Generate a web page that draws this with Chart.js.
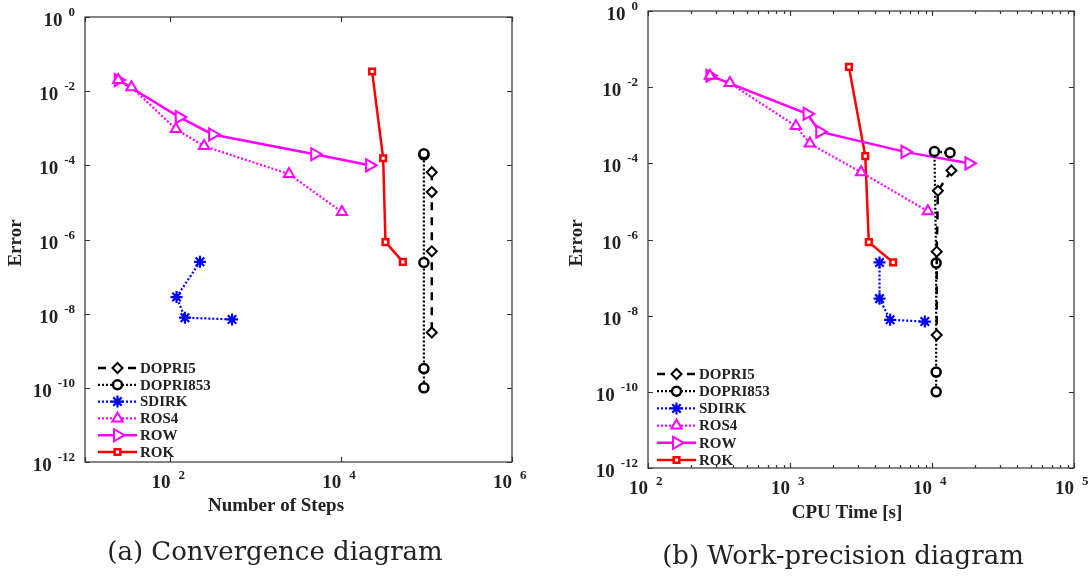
<!DOCTYPE html>
<html>
<head>
<meta charset="utf-8">
<script src="https://cdn.jsdelivr.net/npm/chart.js@4.4.0/dist/chart.umd.min.js"></script>
<style>
  body { margin: 0; background: #fff; width: 1092px; height: 577px; position: relative; overflow: hidden; }
  canvas { position: absolute; top: 0; }
  #convChart { left: 0; }
  #workChart { left: 546px; }
  .cap { position: absolute; font-family: "DejaVu Serif", serif; font-size: 26px; color: #222;
         white-space: nowrap; transform: translateX(-50%); }
</style>
</head>
<body>
<canvas id="convChart" width="546" height="577"></canvas>
<canvas id="workChart" width="546" height="577"></canvas>
<div class="cap" style="left:275px; top:536px">(a) Convergence diagram</div>
<div class="cap" style="left:843px; top:540px">(b) Work-precision diagram</div>
<script>
// methods, in legend order
const methods = ['DOPRI5', 'DOPRI853', 'SDIRK', 'ROS4', 'ROW', 'ROK'];

// error of each run (same runs in both diagrams)
const errDOPRI5   = [6.5e-5, 1.9e-5, 4.8e-7, 3.1e-9];
const errDOPRI853 = [1.9e-4, 2.05e-4, 2.4e-7, 3.3e-10, 1.0e-10];
const errSDIRK    = [2.5e-7, 2.8e-8, 7.8e-9, 7.0e-9];
const errROS4     = [2.0e-2, 1.28e-2, 9.5e-4, 3.3e-4, 5.8e-5, 5.5e-6];
const errROW      = [2.0e-2, 2.0e-3, 6.8e-4, 2.0e-4, 1.0e-4];
const errROK      = [3.4e-2, 1.55e-4, 8.5e-7, 2.5e-7];

// (a) number of steps
const stepsDOPRI5   = [115000, 115000, 115000, 115000];
const stepsDOPRI853 = [93000, 93000, 93000, 93000, 93000];
const stepsSDIRK    = [222, 118, 148, 527];
const stepsROS4     = [24.5, 35, 116, 248, 2450, 10200];
const stepsROW      = [24.5, 127, 312, 4900, 21500];
const stepsROK      = [23000, 31000, 33000, 52700];

// (b) CPU time [s]
const cpuDOPRI5   = [13700, 11000, 10800, 10800];
const cpuDOPRI853 = [13400, 10400, 10700, 10700, 10700];
const cpuSDIRK    = [4270, 4270, 5070, 8900];
const cpuROS4     = [273, 377, 1100, 1380, 3170, 9350];
const cpuROW      = [273, 1320, 1620, 6450, 18200];
const cpuROK      = [2600, 3390, 3590, 5330];

// tick labels (powers of ten)
const yTickExps  = [0, -2, -4, -6, -8, -10, -12];
const xTickExpsA = [2, 4, 6];
const xTickExpsB = [2, 3, 4, 5];

const errors = [errDOPRI5, errDOPRI853, errSDIRK, errROS4, errROW, errROK];

// line / marker styles
const styles = {
  DOPRI5:   { color: '#000000', width: 2.5, dash: [8, 7], point: 'rectRot',  radius: 5,   pbw: 2,   rot: 0 },
  DOPRI853: { color: '#000000', width: 2.2, dash: [2, 2], point: 'circle',   radius: 4.5, pbw: 2.5, rot: 0 },
  SDIRK:    { color: '#0000ff', width: 2.2, dash: [2, 2], point: 'star',     radius: 6,   pbw: 2.2, rot: 0 },
  ROS4:     { color: '#ff00ff', width: 2.2, dash: [2, 2], point: 'triangle', radius: 6,   pbw: 2,   rot: 0 },
  ROW:      { color: '#ff00ff', width: 2.5, dash: [],     point: 'triangle', radius: 7,   pbw: 2,   rot: 90 },
  ROK:      { color: '#ff0000', width: 2.5, dash: [],     point: 'rect',     radius: 4,   pbw: 2.5, rot: 0 }
};

const FONT = '"Liberation Serif", "Times New Roman", serif';
const INK = '#222';

function makeDatasets(xArrays) {
  return methods.map(function(m, i) {
    const s = styles[m];
    return {
      label: m,
      data: xArrays[i].map(function(x, j) { return { x: x, y: errors[i][j] }; }),
      borderColor: s.color,
      borderWidth: s.width,
      borderDash: s.dash,
      tension: 0,
      pointStyle: s.point,
      pointRadius: s.radius,
      pointRotation: s.rot,
      pointBorderWidth: s.pbw,
      pointBorderColor: s.color,
      pointBackgroundColor: '#ffffff',
      fill: false
    };
  });
}

function drawMarker(ctx, s, x, y) {
  ctx.save();
  ctx.setLineDash([]);
  ctx.lineWidth = s.pbw;
  ctx.strokeStyle = s.color;
  ctx.fillStyle = '#ffffff';
  Chart.helpers.drawPoint(ctx, { pointStyle: s.point, rotation: s.rot, radius: s.radius, borderWidth: s.pbw }, x, y);
  ctx.restore();
}

// frame, inward ticks, power-of-ten labels, titles and legend
function framePlugin(cfg) {
  return {
    id: 'frame',
    afterDraw: function(chart) {
      const ctx = chart.ctx, a = chart.chartArea;
      const xs = chart.scales.x, ys = chart.scales.y;
      ctx.save();
      ctx.setLineDash([]);
      ctx.strokeStyle = '#333';
      ctx.lineWidth = 1.2;
      ctx.strokeRect(a.left, a.top, a.right - a.left, a.bottom - a.top);

      ctx.beginPath();
      cfg.xTicks.forEach(function(e) {
        const p = Math.round(xs.getPixelForValue(Math.pow(10, e))) + 0.5;
        ctx.moveTo(p, a.bottom); ctx.lineTo(p, a.bottom - 5);
        ctx.moveTo(p, a.top); ctx.lineTo(p, a.top + 5);
        if (cfg.minor && e < cfg.xTicks[cfg.xTicks.length - 1]) {
          for (let k = 2; k <= 9; k++) {
            const q = Math.round(xs.getPixelForValue(k * Math.pow(10, e))) + 0.5;
            ctx.moveTo(q, a.bottom); ctx.lineTo(q, a.bottom - 3);
            ctx.moveTo(q, a.top); ctx.lineTo(q, a.top + 3);
          }
        }
      });
      yTickExps.forEach(function(e) {
        const p = Math.round(ys.getPixelForValue(Math.pow(10, e))) + 0.5;
        ctx.moveTo(a.left, p); ctx.lineTo(a.left + 5, p);
        ctx.moveTo(a.right, p); ctx.lineTo(a.right - 5, p);
      });
      ctx.stroke();

      ctx.fillStyle = INK;
      ctx.textBaseline = 'alphabetic';
      const big = 'bold 19px ' + FONT, sup = 'bold 13px ' + FONT;

      // y labels: right aligned
      yTickExps.forEach(function(e) {
        const p = ys.getPixelForValue(Math.pow(10, e));
        const txt = String(e);
        ctx.font = sup;
        const wS = ctx.measureText(txt).width;
        const xS = a.left - 10 - wS;
        ctx.textAlign = 'left';
        ctx.fillText(txt, xS, p - 1);
        ctx.font = big;
        ctx.textAlign = 'right';
        ctx.fillText('10', xS - 6, p + 9);
      });

      // x labels
      cfg.xLabels.forEach(function(e) {
        const p = xs.getPixelForValue(Math.pow(10, e));
        ctx.font = big;
        ctx.textAlign = 'right';
        ctx.fillText('10', p, a.bottom + 26);
        ctx.font = sup;
        ctx.textAlign = 'left';
        ctx.fillText(String(e), p + 8, a.bottom + 17);
      });

      // axis titles
      ctx.font = 'bold 19px ' + FONT;
      ctx.textAlign = 'center';
      ctx.fillText(cfg.xTitle, cfg.xTitleX, cfg.xTitleY);
      ctx.save();
      ctx.translate(cfg.yTitleX, 243);
      ctx.rotate(-Math.PI / 2);
      ctx.textBaseline = 'middle';
      ctx.fillText('Error', 0, 0);
      ctx.restore();

      // legend
      const L = cfg.legend;
      methods.forEach(function(m, i) {
        const s = styles[m];
        const y = L.y0 + i * L.dy;
        ctx.save();
        ctx.strokeStyle = s.color;
        ctx.lineWidth = s.width;
        ctx.setLineDash(s.dash);
        ctx.beginPath();
        ctx.moveTo(L.x1, y); ctx.lineTo(L.x2, y);
        ctx.stroke();
        ctx.restore();
        drawMarker(ctx, s, (L.x1 + L.x2) / 2, y);
        ctx.font = 'bold 15px ' + FONT;
        ctx.textAlign = 'left';
        ctx.textBaseline = 'middle';
        ctx.fillStyle = INK;
        ctx.fillText(m, L.tx, y + 1);
      });
      ctx.restore();
    }
  };
}

function makeChart(id, xArrays, xMin, xMax, padding, cfg) {
  return new Chart(document.getElementById(id), {
    type: 'line',
    data: { datasets: makeDatasets(xArrays) },
    options: {
      responsive: false,
      animation: false,
      devicePixelRatio: 1,
      layout: { padding: padding },
      plugins: { legend: { display: false }, tooltip: { enabled: false } },
      scales: {
        x: { type: 'logarithmic', min: xMin, max: xMax, display: false },
        y: { type: 'logarithmic', min: 1e-12, max: 1, display: false }
      }
    },
    plugins: [framePlugin(cfg)]
  });
}

makeChart('convChart',
  [stepsDOPRI5, stepsDOPRI853, stepsSDIRK, stepsROS4, stepsROW, stepsROK],
  10, 1e6,
  { left: 85, top: 17, right: 34, bottom: 115 },
  { xTicks: [1, 2, 4, 6], minor: false, xLabels: xTickExpsA,
    xTitle: 'Number of Steps', xTitleX: 276, xTitleY: 511, yTitleX: 16,
    legend: { x1: 98, x2: 137, tx: 140, y0: 368, dy: 16.8 } });

makeChart('workChart',
  [cpuDOPRI5, cpuDOPRI853, cpuSDIRK, cpuROS4, cpuROW, cpuROK],
  100, 1e5,
  { left: 102, top: 11, right: 18, bottom: 109 },
  { xTicks: xTickExpsB, minor: true, xLabels: xTickExpsB,
    xTitle: 'CPU Time [s]', xTitleX: 301, xTitleY: 518, yTitleX: 31,
    legend: { x1: 111, x2: 150, tx: 153, y0: 374, dy: 17.2 } });
</script>
</body>
</html>
